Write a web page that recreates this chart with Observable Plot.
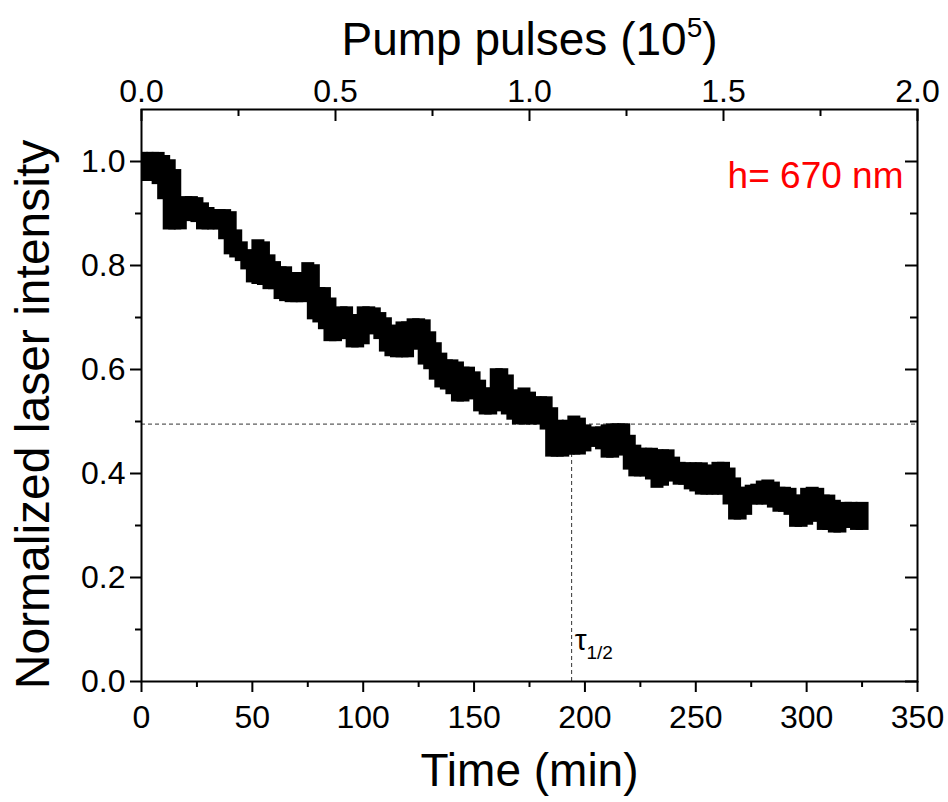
<!DOCTYPE html>
<html><head><meta charset="utf-8">
<script src="https://cdn.jsdelivr.net/npm/d3@7"></script>
<script src="https://cdn.jsdelivr.net/npm/@observablehq/plot@0.6"></script>
<style>body{margin:0;background:#fff}</style>
</head><body><div id="chart"></div>
<script>
// Time (min) of each sample
const time = [0,2.5,5,7.5,10,12.5,15,17.5,20,22.5,25,27.5,30,32.5,35,37.5,40,42.5,45,47.5,50,52.5,55,57.5,60,62.5,65,67.5,70,72.5,75,77.5,80,82.5,85,87.5,90,92.5,95,97.5,100,102.5,105,107.5,110,112.5,115,117.5,120,122.5,125,127.5,130,132.5,135,137.5,140,142.5,145,147.5,150,152.5,155,157.5,160,162.5,165,167.5,170,172.5,175,177.5,180,182.5,185,187.5,190,192.5,195,197.5,200,202.5,205,207.5,210,212.5,215,217.5,220,222.5,225,227.5,230,232.5,235,237.5,240,242.5,245,247.5,250,252.5,255,257.5,260,262.5,265,267.5,270,272.5,275,277.5,280,282.5,285,287.5,290,292.5,295,297.5,300,302.5,305,307.5,310,312.5,315,317.5,320,322.5,325];
// upper and lower envelope of the noisy normalized intensity
const upper = [1.005,1.005,1.005,1.005,0.999,0.991,0.972,0.914,0.920,0.920,0.918,0.908,0.899,0.895,0.895,0.895,0.891,0.856,0.833,0.818,0.814,0.837,0.833,0.808,0.795,0.785,0.785,0.774,0.774,0.774,0.793,0.789,0.745,0.745,0.725,0.702,0.708,0.708,0.693,0.693,0.708,0.708,0.706,0.697,0.687,0.673,0.668,0.679,0.679,0.685,0.685,0.683,0.660,0.639,0.619,0.606,0.606,0.602,0.592,0.592,0.583,0.567,0.552,0.552,0.589,0.589,0.577,0.548,0.548,0.552,0.544,0.535,0.535,0.535,0.514,0.490,0.467,0.490,0.498,0.494,0.481,0.475,0.477,0.477,0.481,0.483,0.483,0.483,0.461,0.442,0.436,0.436,0.436,0.433,0.433,0.433,0.419,0.409,0.408,0.408,0.408,0.408,0.404,0.398,0.409,0.409,0.398,0.379,0.361,0.361,0.365,0.367,0.373,0.375,0.371,0.361,0.361,0.359,0.346,0.346,0.359,0.361,0.359,0.346,0.346,0.336,0.317,0.332,0.332,0.330,0.332];
const lower = [0.974,0.974,0.974,0.968,0.939,0.881,0.881,0.881,0.897,0.897,0.895,0.881,0.881,0.881,0.881,0.862,0.833,0.827,0.820,0.804,0.779,0.776,0.774,0.766,0.766,0.747,0.743,0.741,0.741,0.741,0.747,0.708,0.702,0.689,0.666,0.666,0.670,0.670,0.654,0.654,0.660,0.679,0.683,0.670,0.646,0.637,0.635,0.635,0.635,0.650,0.650,0.621,0.612,0.592,0.577,0.573,0.564,0.550,0.550,0.554,0.564,0.531,0.525,0.525,0.531,0.535,0.525,0.515,0.506,0.506,0.506,0.506,0.506,0.496,0.444,0.444,0.444,0.448,0.448,0.448,0.454,0.463,0.463,0.458,0.442,0.442,0.446,0.448,0.419,0.406,0.406,0.406,0.400,0.384,0.388,0.404,0.396,0.390,0.390,0.381,0.377,0.371,0.371,0.371,0.371,0.371,0.352,0.323,0.323,0.332,0.352,0.352,0.352,0.352,0.346,0.338,0.338,0.332,0.309,0.309,0.313,0.319,0.319,0.303,0.303,0.298,0.298,0.307,0.307,0.303,0.303];

const bottomTicks = [0,50,100,150,200,250,300,350];
const bottomMinor = [25,75,125,175,225,275,325];
const leftTicks = [0,0.2,0.4,0.6,0.8,1.0];
const leftMinor = [0.1,0.3,0.5,0.7,0.9];
const topTickTimes = [0,87.5,175,262.5,350];      // time positions of pump-pulse ticks
const topTickLabels = ["0.0","0.5","1.0","1.5","2.0"];
const topMinorTimes = [43.75,131.25,218.75,306.25];
const halfLevel = 0.495;
const tauTime = 194;
const tauLabelY = 0.08;
const sampleLabel = "h= 670 nm";

const data = time.map((t,i) => ({t, hi: upper[i], lo: lower[i]}));

const svg = Plot.plot({
  width: 948, height: 802,
  marginTop: 109, marginRight: 31, marginBottom: 121, marginLeft: 141,
  style: {fontFamily: "'Liberation Sans', Arial, sans-serif", background: "#fff"},
  x: {domain: [0, 350]},
  y: {domain: [0, 1.1]},
  marks: [
    Plot.ruleY([halfLevel], {stroke: "#333", strokeWidth: 1, strokeDasharray: "4,3"}),
    Plot.ruleX([tauTime], {y1: 0, y2: halfLevel, stroke: "#333", strokeWidth: 1, strokeDasharray: "4,3"}),
    Plot.ruleX(data, {x: "t", y1: "hi", y2: "lo", stroke: "black", strokeWidth: 13,
      insetTop: -6.5, insetBottom: -6.5, clip: true}),
    Plot.frame({stroke: "black", strokeWidth: 2}),
    // bottom axis
    Plot.axisX(bottomTicks, {anchor: "bottom", tickSize: 11, tickPadding: 13, strokeWidth: 2,
      fontSize: 32, tickFormat: d => String(d), label: null}),
    Plot.axisX(bottomMinor, {anchor: "bottom", tickSize: 6, strokeWidth: 2, tickFormat: () => "", label: null}),
    // left axis
    Plot.axisY(leftTicks, {anchor: "left", tickSize: 11, tickPadding: 5, strokeWidth: 2,
      fontSize: 32, tickFormat: d => d.toFixed(1), label: null}),
    Plot.axisY(leftMinor, {anchor: "left", tickSize: 6, strokeWidth: 2, tickFormat: () => "", label: null}),
    // top axis (pump pulses), ticks inward
    Plot.axisX(topTickTimes, {anchor: "top", tickSize: 0, tickPadding: 8, fontSize: 32,
      tickFormat: d => topTickLabels[topTickTimes.indexOf(d)], label: null}),
    Plot.ruleX(topTickTimes, {x: d => d, y1: 1.1, y2: 1.1, insetBottom: -12, strokeWidth: 2, stroke: "black"}),
    Plot.ruleX(topMinorTimes, {x: d => d, y1: 1.1, y2: 1.1, insetBottom: -7, strokeWidth: 2, stroke: "black"}),
    // right axis ticks inward
    Plot.ruleY(leftTicks, {y: d => d, x1: 350, x2: 350, insetLeft: -12, strokeWidth: 2, stroke: "black"}),
    Plot.ruleY(leftMinor, {y: d => d, x1: 350, x2: 350, insetLeft: -7, strokeWidth: 2, stroke: "black"}),
    // titles
    Plot.text(["Pump pulses (10^5)"], {frameAnchor: "top", dy: -87, fontSize: 46, fill: "black"}),
    Plot.text(["Time (min)"], {frameAnchor: "bottom", dy: 104, fontSize: 46, fill: "black"}),
    Plot.text(["Normalized laser intensity"], {frameAnchor: "left", textAnchor: "middle", lineAnchor: "middle",
      rotate: -90, dx: -108, dy: 19, fontSize: 48, fill: "black"}),
    Plot.text([sampleLabel], {frameAnchor: "top-right", dx: -14, dy: 52, textAnchor: "end", fontSize: 37, fill: "#ff0000"}),
    Plot.text(["τ"], {x: tauTime, y: tauLabelY, dx: 3, textAnchor: "start", fontSize: 30, fill: "black"})
  ]
});

d3.select(svg).selectAll("text").each(function() {
  const t = this.textContent;
  const sel = d3.select(this);
  if (t === "Pump pulses (10^5)") {
    sel.text("Pump pulses (10");
    sel.append("tspan").attr("font-size", "28px").attr("dy", "-18px").text("5");
    sel.append("tspan").attr("dy", "18px").text(")");
  } else if (t === "τ") {
    sel.append("tspan").attr("font-size", "19px").attr("dy", "10px").text("1/2");
  }
});

document.getElementById("chart").appendChild(svg);
</script>
</body></html>
